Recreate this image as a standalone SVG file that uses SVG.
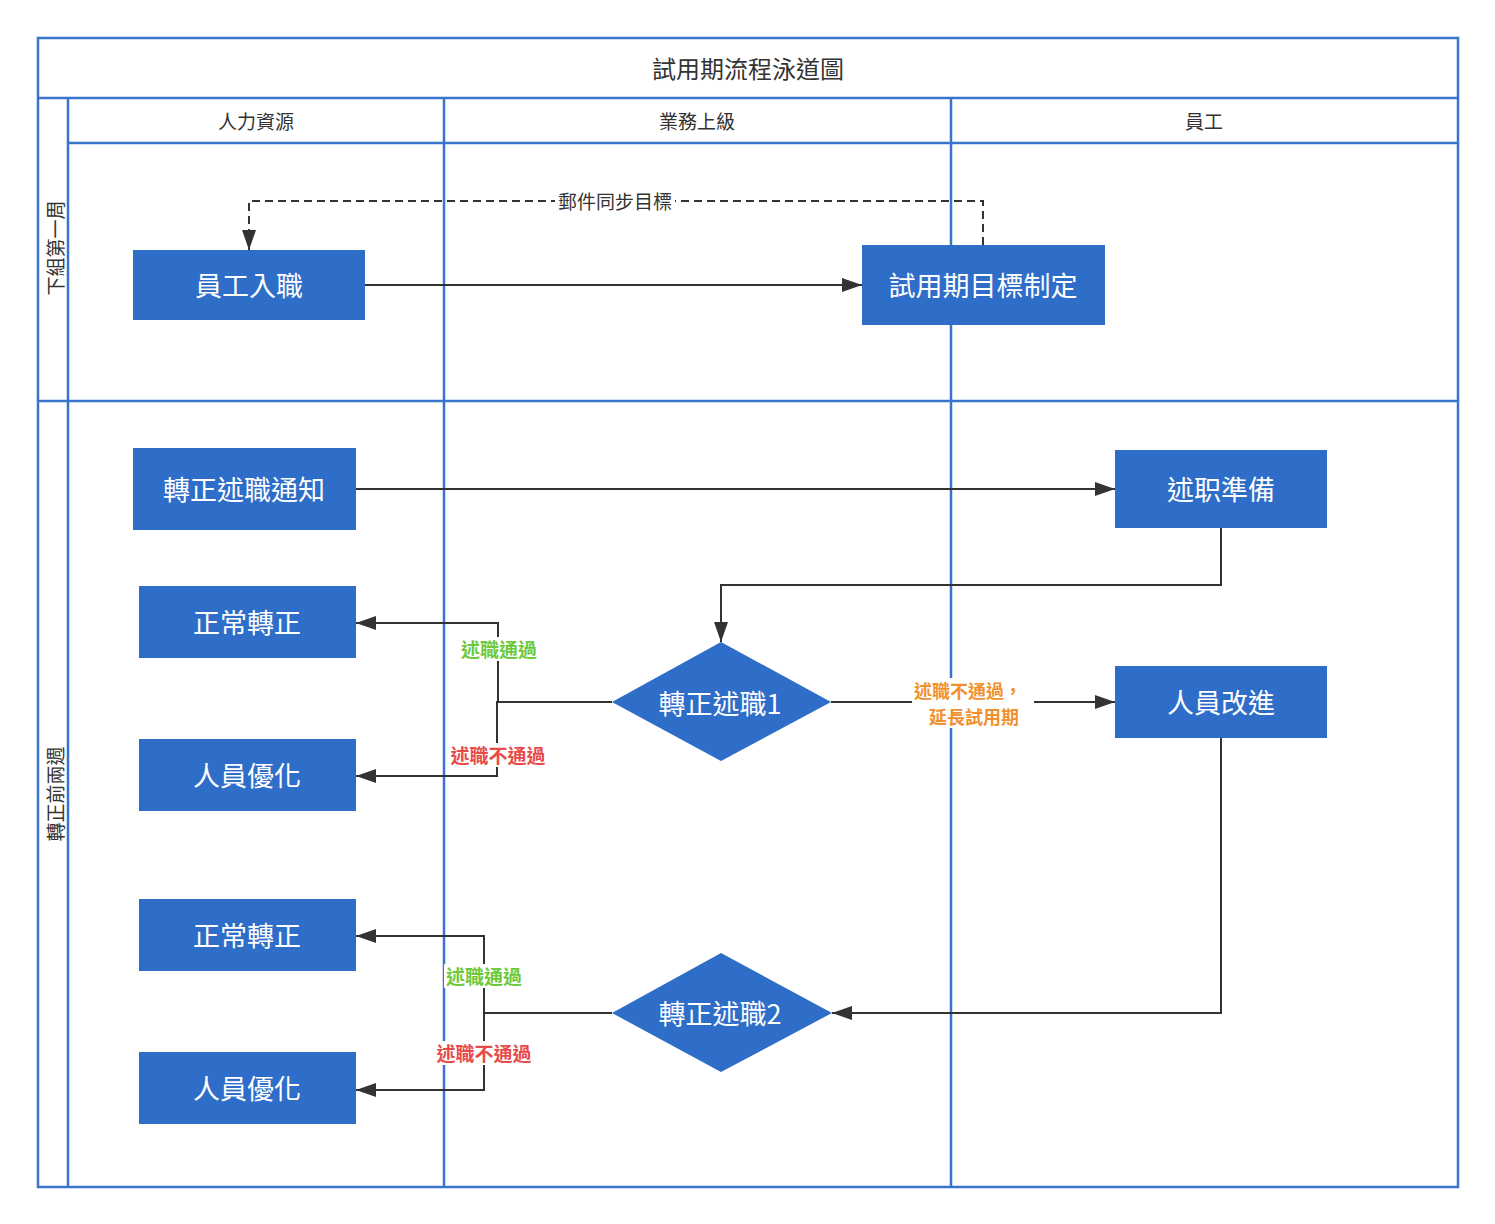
<svg xmlns="http://www.w3.org/2000/svg" width="1495" height="1224" viewBox="0 0 1495 1224">
<defs>
<style>
.lane{fill:none;stroke:#3874cc;stroke-width:2.5}
.hdr{font-family:"Noto Sans CJK TC","Noto Sans CJK SC",sans-serif;font-size:19px;fill:#333;text-anchor:middle;dominant-baseline:central}
.title{font-family:"Noto Sans CJK TC","Noto Sans CJK SC",sans-serif;font-size:24px;fill:#333;text-anchor:middle;dominant-baseline:central}
.node{fill:#2e6dc8}
.nt{font-family:"Noto Sans CJK TC","Noto Sans CJK SC",sans-serif;font-size:27px;fill:#fff;text-anchor:middle;dominant-baseline:central}
.conn{fill:none;stroke:#333;stroke-width:2}
.dash{stroke-dasharray:8 5}
.lbl{font-family:"Noto Sans CJK TC","Noto Sans CJK SC",sans-serif;font-size:19px;font-weight:bold;text-anchor:middle;dominant-baseline:central}
.lblo{font-size:18px}
.lblplain{font-family:"Noto Sans CJK TC","Noto Sans CJK SC",sans-serif;font-size:19px;fill:#333;text-anchor:middle;dominant-baseline:central}
.g{fill:#6cc93c}.r{fill:#e84a4a}.o{fill:#f0902f}
</style>
<marker id="arr" viewBox="0 0 20 14" refX="20" refY="7" markerWidth="20" markerHeight="14" markerUnits="userSpaceOnUse" orient="auto">
<path d="M0,0 L20,7 L0,14 Z" fill="#333"/>
</marker>
</defs>
<rect width="1495" height="1224" fill="#fff"/>
<g id="pool">
<rect class="lane" x="38" y="38" width="1420" height="1149"/>
<line class="lane" x1="38" y1="98" x2="1458" y2="98"/>
<line class="lane" x1="68" y1="143" x2="1458" y2="143"/>
<line class="lane" x1="38" y1="401" x2="1458" y2="401"/>
<line class="lane" x1="68" y1="98" x2="68" y2="1187"/>
<line class="lane" x1="444" y1="98" x2="444" y2="1187"/>
<line class="lane" x1="951" y1="98" x2="951" y2="1187"/>
<text class="title" x="748" y="67">試用期流程泳道圖</text>
<text class="hdr" x="256" y="120">人力資源</text>
<text class="hdr" x="697" y="120">業務上級</text>
<text class="hdr" x="1204" y="120">員工</text>
<text class="hdr" transform="translate(54,248) rotate(-90)">下組第一周</text>
<text class="hdr" transform="translate(54,794) rotate(-90)">轉正前兩週</text>
</g>
<g id="connectors">
<path class="conn" d="M365,285 H862" marker-end="url(#arr)"/>
<path class="conn dash" d="M983,245 V201 H249 V250" marker-end="url(#arr)"/>
<rect x="555" y="189" width="120" height="24" fill="#fff"/>
<text class="lblplain" x="615" y="200">郵件同步目標</text>
<path class="conn" d="M356,489 H1115" marker-end="url(#arr)"/>
<path class="conn" d="M1221,528 V585 H721 V642" marker-end="url(#arr)"/>
<path class="conn" d="M612,702 H498 V623 H356" marker-end="url(#arr)"/>
<path class="conn" d="M498,702 H497 V776 H356" marker-end="url(#arr)"/>
<rect x="459" y="637" width="80" height="24" fill="#fff"/>
<text class="lbl g" x="499" y="648">述職通過</text>
<rect x="448" y="743" width="100" height="24" fill="#fff"/>
<text class="lbl r" x="498" y="754">述職不通過</text>
<path class="conn" d="M831,702 H1115" marker-end="url(#arr)"/>
<rect x="912" y="678" width="122" height="50" fill="#fff"/>
<text class="lbl lblo o" x="968" y="690">述職不通過，</text>
<text class="lbl lblo o" x="974" y="716">延長試用期</text>
<path class="conn" d="M1221,738 V1013 H832" marker-end="url(#arr)"/>
<path class="conn" d="M612,1013 H484 V936 H356" marker-end="url(#arr)"/>
<path class="conn" d="M484,1013 V1090 H356" marker-end="url(#arr)"/>
<rect x="444" y="964" width="80" height="24" fill="#fff"/>
<text class="lbl g" x="484" y="975">述職通過</text>
<rect x="434" y="1041" width="100" height="24" fill="#fff"/>
<text class="lbl r" x="484" y="1052">述職不通過</text>
</g>
<g id="n1"><rect class="node" x="133" y="250" width="232" height="70"/><text class="nt" x="249" y="284">員工入職</text></g>
<g id="n2"><rect class="node" x="862" y="245" width="243" height="80"/><text class="nt" x="983" y="284">試用期目標制定</text></g>
<g id="n3"><rect class="node" x="133" y="448" width="223" height="82"/><text class="nt" x="244" y="488">轉正述職通知</text></g>
<g id="n4"><rect class="node" x="1115" y="450" width="212" height="78"/><text class="nt" x="1221" y="488">述职準備</text></g>
<g id="n5"><rect class="node" x="139" y="586" width="217" height="72"/><text class="nt" x="247" y="621">正常轉正</text></g>
<g id="n6"><rect class="node" x="139" y="739" width="217" height="72"/><text class="nt" x="247" y="774">人員優化</text></g>
<g id="n7"><path class="node" d="M721,642 L831,702 L721,761 L612,702 Z"/><text class="nt" x="720" y="702">轉正述職1</text></g>
<g id="n8"><rect class="node" x="1115" y="666" width="212" height="72"/><text class="nt" x="1221" y="701">人員改進</text></g>
<g id="n9"><rect class="node" x="139" y="899" width="217" height="72"/><text class="nt" x="247" y="934">正常轉正</text></g>
<g id="n10"><rect class="node" x="139" y="1052" width="217" height="72"/><text class="nt" x="247" y="1087">人員優化</text></g>
<g id="n11"><path class="node" d="M721,953 L832,1013 L721,1072 L612,1013 Z"/><text class="nt" x="720" y="1012">轉正述職2</text></g>
</svg>
